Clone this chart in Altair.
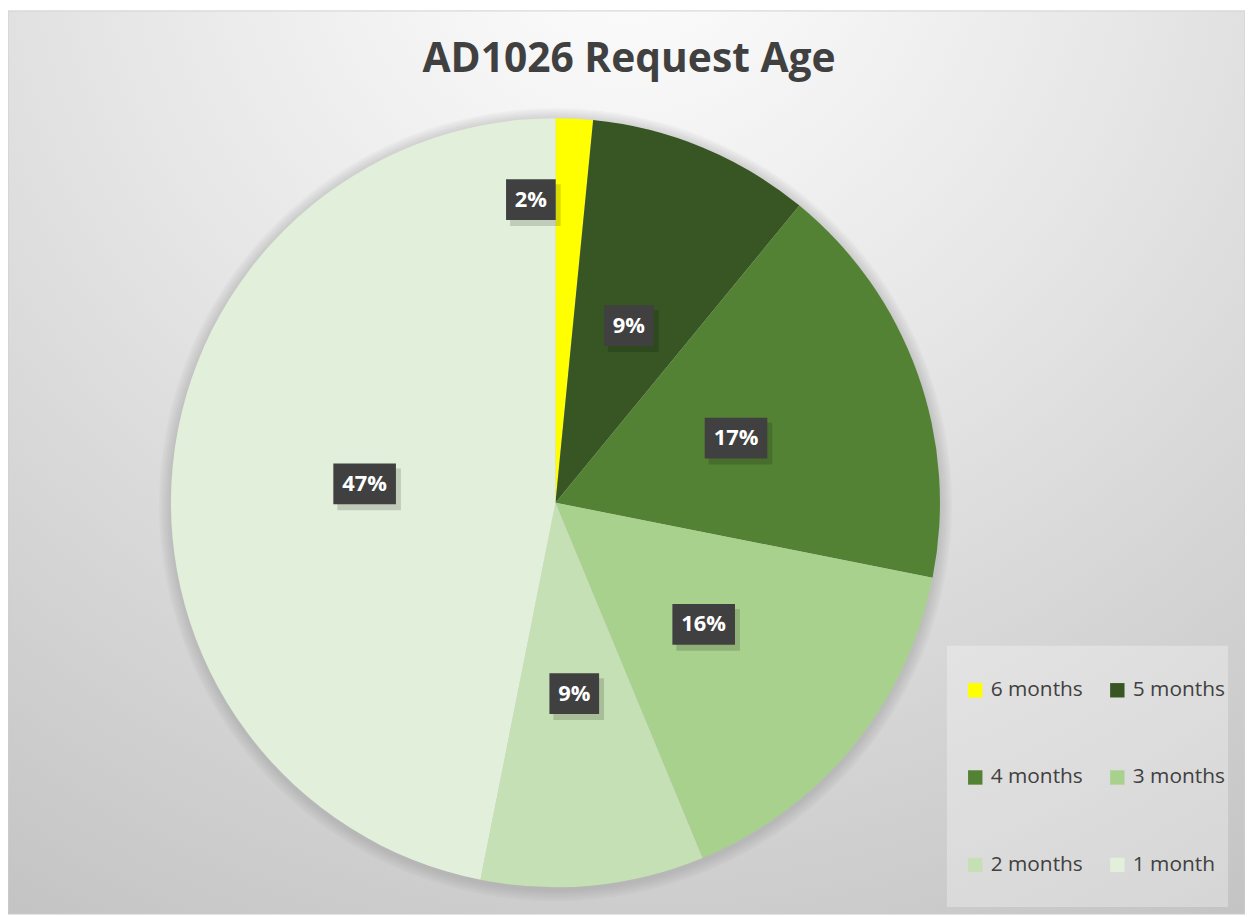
import altair as alt
import pandas as pd

categories = ["6 months", "5 months", "4 months", "3 months", "2 months", "1 month"]
counts = [1, 6, 11, 10, 6, 30]
colors = ["#FFFF00", "#375623", "#548235", "#A9D18E", "#C5E0B4", "#E2EFDA"]
title_text = "AD1026 Request Age"

W, H = 1245, 909
CX, CY, R = 551, 495, 387

df = pd.DataFrame({"category": categories, "count": counts, "idx": list(range(len(categories)))})
base = alt.Chart(df)
one = alt.Chart(pd.DataFrame({"k": [0]}))

bg = one.mark_rect(
    fill=alt.RadialGradient(
        gradient="radial", x1=0.5, y1=0.05, r1=0, x2=0.5, y2=0.05, r2=0.95,
        stops=[alt.GradientStop(color="#ffffff", offset=0),
               alt.GradientStop(color="#e6e6e6", offset=0.45),
               alt.GradientStop(color="#c4c4c4", offset=1)]),
    stroke="#d0d0d0", strokeWidth=1,
).encode(x=alt.value(0), x2=alt.value(W), y=alt.value(0), y2=alt.value(H))

shadows = [
    one.mark_arc(theta=0, theta2=6.2832, radius=R + 2 + 2 * i, color="#808080", opacity=0.06)
    .encode(x=alt.value(CX), y=alt.value(CY + 2))
    for i in range(6)
]

pie = base.mark_arc(radius=R, stroke=None).encode(
    theta=alt.Theta("count:Q", stack=True),
    color=alt.Color(
        "category:N",
        scale=alt.Scale(domain=categories, range=colors),
        sort=categories,
        legend=alt.Legend(
            title=None, orient="none", legendX=963, legendY=673, columns=2,
            direction="horizontal",
            symbolType="square", symbolSize=210, symbolStrokeWidth=0,
            labelFont="Open Sans", labelFontSize=21, labelColor="#404040",
            labelOffset=5, rowPadding=66, columnPadding=24, labelLimit=200,
        ),
    ),
    order=alt.Order("idx:Q"),
    x=alt.value(CX),
    y=alt.value(CY),
)

lab = base.transform_joinaggregate(total="sum(count)").transform_window(
    cum="sum(count)", sort=[alt.SortField("idx")]
).transform_calculate(
    pct="datum.count / datum.total",
    label="format(datum.count / datum.total, '.0%')",
).transform_calculate(
    ang="((datum.cum - datum.count / 2) / datum.total) * 2 * PI - (datum.pct < 0.05 ? 0.13 : 0)",
    rr="datum.pct < 0.05 ? 306 : 193",
).transform_calculate(
    lx=f"{CX} + datum.rr * sin(datum.ang)",
    ly=f"{CY} - datum.rr * cos(datum.ang)",
    bw="24 + 13 * length(datum.label)",
).transform_calculate(
    bx1="datum.lx - datum.bw / 2",
    bx2="datum.lx + datum.bw / 2",
    by1="datum.ly - 20.5",
    by2="datum.ly + 20.5",
    sx1="datum.lx - datum.bw / 2 + 4",
    sx2="datum.lx + datum.bw / 2 + 5",
    sy1="datum.ly - 20.5 + 5",
    sy2="datum.ly + 20.5 + 6",
)

box_shadow = lab.mark_rect(color="#000000", opacity=0.15).encode(
    x=alt.X("sx1:Q", scale=None), x2="sx2:Q",
    y=alt.Y("sy1:Q", scale=None), y2="sy2:Q",
)
box = lab.mark_rect(color="#404040").encode(
    x=alt.X("bx1:Q", scale=None), x2="bx2:Q",
    y=alt.Y("by1:Q", scale=None), y2="by2:Q",
)
txt = lab.mark_text(
    font="Open Sans", fontSize=22, fontWeight="bold", color="#ffffff",
    align="center", baseline="middle",
).encode(
    x=alt.X("lx:Q", scale=None), y=alt.Y("ly:Q", scale=None), text="label:N"
)

legend_box = one.mark_rect(fill="#ffffff", opacity=0.3).encode(
    x=alt.value(945), x2=alt.value(1228), y=alt.value(639), y2=alt.value(902)
)

title = one.mark_text(
    text=title_text, font="Open Sans", fontSize=41, fontWeight="bold",
    color="#404040", align="center", baseline="middle",
).encode(x=alt.value(625), y=alt.value(49))

chart = alt.layer(bg, *shadows, pie, box_shadow, box, txt, legend_box, title).properties(
    width=W, height=H, padding=0, autosize=alt.AutoSizeParams(type="none")
).configure_view(stroke=None).resolve_scale(x="independent", y="independent")

chart.save("out.html", embed_options={"renderer": "svg", "actions": False})
